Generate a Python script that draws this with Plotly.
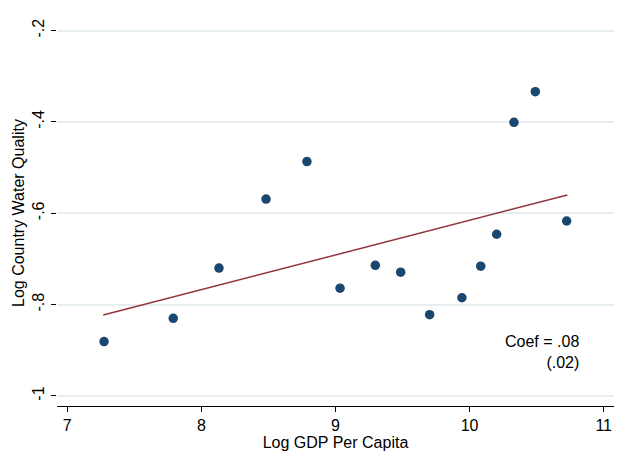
import plotly.graph_objects as go

# Data
log_gdp = [7.274, 7.790, 8.131, 8.482, 8.787, 9.034, 9.297, 9.486,
           9.702, 9.943, 10.083, 10.202, 10.331, 10.490, 10.724]
log_water = [-0.881, -0.830, -0.720, -0.569, -0.487, -0.764, -0.714, -0.729,
             -0.822, -0.785, -0.716, -0.646, -0.401, -0.334, -0.617]

fit_x = [7.268, 10.729]
fit_y = [-0.823, -0.560]

x_ticks = [7, 8, 9, 10, 11]
x_tick_text = ["7", "8", "9", "10", "11"]
y_ticks = [-1.0, -0.8, -0.6, -0.4, -0.2]
y_tick_text = ["-1", "-.8", "-.6", "-.4", "-.2"]

x_title = "Log GDP Per Capita"
y_title = "Log Country Water Quality"
coef_text = "Coef = .08<br>(.02)"
coef_pos = (10.83, -0.904)

FONT = "Liberation Sans, Arial, sans-serif"

fig = go.Figure()
fig.add_trace(go.Scatter(
    x=log_gdp, y=log_water, mode="markers",
    marker=dict(color="#1a476f", size=9.5, line=dict(width=0)),
    showlegend=False, hoverinfo="x+y",
))
fig.add_trace(go.Scatter(
    x=fit_x, y=fit_y, mode="lines",
    line=dict(color="#90353b", width=1.5),
    showlegend=False,
))

fig.add_annotation(
    x=coef_pos[0], y=coef_pos[1], xref="x", yref="y",
    text=coef_text, showarrow=False, align="right",
    xanchor="right", yanchor="middle",
    font=dict(family=FONT, size=16, color="black"),
)

# y-axis title placed as rotated text left of the tick labels
fig.add_annotation(
    x=-0.0700, y=0.5, xref="paper", yref="paper",
    text=y_title, showarrow=False, textangle=-90,
    xanchor="center", yanchor="middle",
    font=dict(family=FONT, size=16, color="black"),
)

fig.update_layout(
    width=629, height=468,
    margin=dict(l=57, r=15, t=20, b=62),
    paper_bgcolor="white", plot_bgcolor="white",
    font=dict(family=FONT, size=16, color="black"),
    xaxis=dict(
        range=[6.923, 11.077],
        tickvals=x_ticks, ticktext=x_tick_text,
        showgrid=False, zeroline=False,
        showline=True, linecolor="black", linewidth=1,
        ticks="outside", ticklen=5, tickcolor="black", tickwidth=1,
        title=dict(text=x_title, standoff=2,
                   font=dict(family=FONT, size=16)),
        tickfont=dict(family=FONT, size=16),
    ),
    yaxis=dict(
        range=[-1.022, -0.177],
        tickvals=y_ticks, ticktext=y_tick_text,
        showgrid=True, gridcolor="#e6eef1", gridwidth=1.5,
        zeroline=False, showline=False,
        ticks="outside", ticklen=5, tickcolor="black", tickwidth=1,
        tickangle=-90, ticklabelstandoff=1,
        tickfont=dict(family=FONT, size=16),
    ),
)

fig.write_html("out.html")
